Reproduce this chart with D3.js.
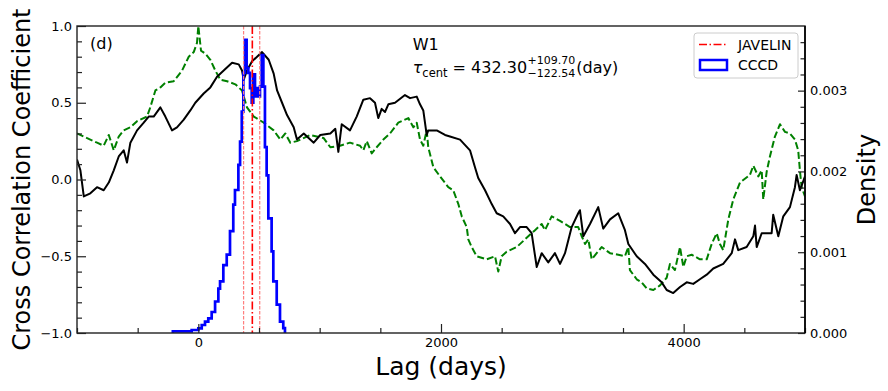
<!DOCTYPE html>
<html><head><meta charset="utf-8">
<script src="https://cdn.jsdelivr.net/npm/d3@7"></script>
<style>body{margin:0;background:#fff} svg{display:block} text{font-family:"DejaVu Sans",sans-serif;fill:#000}</style>
</head><body><svg id="c" width="888" height="391"></svg>
<script>
// ---------- data ----------
const panelLabel = "(d)";
const bandName = "W1";
const tauCent = 432.30, tauErrPlus = 109.70, tauErrMinus = 122.54;
const javelinLow = 373, javelinCentral = 445, javelinHigh = 506;

// black solid CCF
const lagCCF = [-1000,-972,-944,-890,-835,-780,-738,-697,-656,-615,-588,-560,-505,-450,-409,-368,-313,-272,-217,-176,-120,-66,-25,44,99,154,209,278,333,360,374,401,443,484,525,580,621,649,690,731,786,813,869,951,1005,1088,1129,1154,1182,1250,1305,1360,1415,1456,1483,1511,1539,1566,1621,1703,1745,1800,1827,1854,1882,1895,1965,2033,2074,2157,2239,2280,2307,2363,2418,2459,2513,2569,2610,2651,2706,2747,2789,2830,2884,2939,2981,3022,3077,3131,3145,3173,3228,3296,3337,3393,3461,3516,3544,3613,3681,3750,3819,3860,3914,3970,4025,4079,4134,4190,4244,4326,4396,4423,4450,4519,4574,4588,4602,4643,4725,4738,4780,4821,4876,4917,4931,4958,4986,5000];
const ccfValues = [0.13,0.06,-0.11,-0.09,-0.05,-0.07,-0.02,0.06,0.15,0.19,0.11,0.24,0.32,0.37,0.41,0.41,0.47,0.41,0.32,0.34,0.39,0.45,0.50,0.56,0.60,0.67,0.71,0.76,0.75,0.71,0.65,0.71,0.77,0.80,0.83,0.78,0.69,0.58,0.50,0.42,0.34,0.26,0.30,0.24,0.29,0.30,0.33,0.18,0.36,0.32,0.41,0.52,0.53,0.50,0.40,0.46,0.44,0.49,0.50,0.55,0.53,0.54,0.49,0.45,0.29,0.32,0.32,0.29,0.28,0.26,0.19,0.08,0.01,-0.07,-0.16,-0.22,-0.24,-0.29,-0.35,-0.31,-0.31,-0.35,-0.57,-0.48,-0.54,-0.48,-0.55,-0.48,-0.31,-0.22,-0.20,-0.37,-0.29,-0.18,-0.32,-0.26,-0.22,-0.33,-0.42,-0.50,-0.55,-0.62,-0.67,-0.72,-0.74,-0.70,-0.67,-0.68,-0.65,-0.62,-0.58,-0.55,-0.48,-0.39,-0.46,-0.44,-0.37,-0.30,-0.44,-0.35,-0.35,-0.23,-0.37,-0.24,-0.18,-0.05,0.03,-0.07,-0.01,0.02];

// green dashed ACF
const lagACF = [-1000,-917,-835,-780,-738,-697,-656,-615,-560,-505,-423,-396,-354,-313,-272,-203,-134,-79,-38,-11,0,22,58,99,140,181,237,305,360,401,457,539,621,676,717,758,813,923,1033,1088,1168,1250,1333,1360,1388,1429,1470,1525,1580,1648,1731,1772,1800,1827,1854,1882,1895,1937,1992,2060,2101,2143,2171,2212,2225,2253,2294,2377,2445,2472,2500,2541,2624,2706,2775,2830,2857,2912,2981,3063,3131,3160,3187,3214,3242,3283,3324,3393,3461,3516,3544,3557,3613,3654,3695,3750,3805,3860,3887,3928,3970,3997,4025,4066,4134,4190,4231,4272,4299,4326,4368,4409,4464,4546,4574,4615,4643,4656,4684,4711,4752,4794,4835,4876,4917,4944,4958,4972,5000];
const acfValues = [0.30,0.27,0.24,0.22,0.29,0.19,0.28,0.32,0.34,0.38,0.41,0.47,0.58,0.60,0.63,0.64,0.71,0.80,0.83,0.89,1.00,0.84,0.82,0.78,0.71,0.65,0.64,0.62,0.58,0.47,0.41,0.37,0.32,0.26,0.30,0.24,0.25,0.29,0.27,0.21,0.22,0.24,0.22,0.19,0.25,0.17,0.21,0.26,0.30,0.37,0.40,0.34,0.37,0.26,0.22,0.32,0.21,0.08,0.02,-0.05,-0.07,-0.16,-0.24,-0.31,-0.39,-0.44,-0.50,-0.52,-0.50,-0.60,-0.50,-0.47,-0.44,-0.38,-0.33,-0.29,-0.33,-0.24,-0.27,-0.31,-0.31,-0.37,-0.42,-0.39,-0.52,-0.48,-0.44,-0.48,-0.49,-0.50,-0.44,-0.59,-0.65,-0.67,-0.71,-0.72,-0.69,-0.64,-0.55,-0.59,-0.44,-0.57,-0.50,-0.49,-0.52,-0.52,-0.42,-0.35,-0.42,-0.46,-0.26,-0.13,-0.02,0.03,0.09,0.02,0.06,-0.13,0.05,0.15,0.28,0.36,0.31,0.30,0.26,0.19,0.06,-0.05,-0.11];

// CCCD histogram (bin edges in days, density per bin)
const cccdEdges = [-210,-55,0,28,55,82,110,138,165,179,206,234,261,288,302,330,344,358,371,385,398,412,426,440,453,467,481,494,508,522,536,549,563,577,604,618,646,673,700,714];
const cccdDensity = [0.00002,0.000037,0.000058,0.000099,0.00014,0.00018,0.00026,0.00039,0.00055,0.00064,0.00084,0.00097,0.00126,0.00159,0.00177,0.00208,0.00237,0.00274,0.00322,0.00363,0.00328,0.00322,0.00303,0.00285,0.00320,0.00293,0.00303,0.00293,0.00305,0.00344,0.00305,0.00230,0.00195,0.00142,0.00101,0.00064,0.00035,0.00014,0.00006];

const xTicks = [0, 2000, 4000];
const xMinor = [-1000,-500,500,1000,1500,2500,3000,3500,4500,5000];
const yTicks = [-1.0, -0.5, 0.0, 0.5, 1.0];
const yMinor = [-0.9,-0.8,-0.7,-0.6,-0.4,-0.3,-0.2,-0.1,0.1,0.2,0.3,0.4,0.6,0.7,0.8,0.9];
const dTicks = [0, 0.001, 0.002, 0.003];
const dMinor = [0.0002,0.0004,0.0006,0.0008,0.0012,0.0014,0.0016,0.0018,0.0022,0.0024,0.0026,0.0028,0.0032,0.0034,0.0036];

// ---------- layout ----------
const L = 77, R = 805, T = 26, B = 333;
const svg = d3.select("#c");
const x = d3.scaleLinear().domain([-1000, 5000]).range([L, R]);
const y = d3.scaleLinear().domain([-1, 1]).range([B, T]);
const yd = d3.scaleLinear().domain([0, 0.0038]).range([B, T]);

svg.append("defs").append("clipPath").attr("id","clip")
  .append("rect").attr("x",L).attr("y",T).attr("width",R-L).attr("height",B-T);
const plot = svg.append("g").attr("clip-path","url(#clip)");

// green dashed ACF
plot.append("path")
  .datum(lagACF.map((d,i)=>[d, acfValues[i]]))
  .attr("d", d3.line().x(d=>x(d[0])).y(d=>y(d[1])))
  .attr("fill","none").attr("stroke","#008000").attr("stroke-width",2)
  .attr("stroke-dasharray","7,3").attr("stroke-linejoin","round");

// black CCF
plot.append("path")
  .datum(lagCCF.map((d,i)=>[d, ccfValues[i]]))
  .attr("d", d3.line().x(d=>x(d[0])).y(d=>y(d[1])))
  .attr("fill","none").attr("stroke","#000").attr("stroke-width",2)
  .attr("stroke-linejoin","round");

// CCCD step histogram
const histPts = [[cccdEdges[0], 0]];
cccdDensity.forEach((v,i)=>{ histPts.push([cccdEdges[i], v]); histPts.push([cccdEdges[i+1], v]); });
histPts.push([cccdEdges[cccdEdges.length-1], 0]);
plot.append("path")
  .datum(histPts)
  .attr("d", d3.line().x(d=>x(d[0])).y(d=>yd(d[1])))
  .attr("fill","none").attr("stroke","#0000ff").attr("stroke-width",2.7)
  .attr("stroke-linejoin","miter");

// JAVELIN lines
[javelinLow, javelinHigh].forEach(v=>{
  plot.append("line").attr("x1",x(v)).attr("x2",x(v)).attr("y1",T).attr("y2",B)
    .attr("stroke","#ff7f7f").attr("stroke-width",1.2).attr("stroke-dasharray","3.5,1.5");
});
plot.append("line").attr("x1",x(javelinCentral)).attr("x2",x(javelinCentral)).attr("y1",T).attr("y2",B)
  .attr("stroke","#ff0000").attr("stroke-width",1.6).attr("stroke-dasharray","8,2.5,1.5,2.5");

// ---------- axes ----------
const tickCol = "#222";
function styleAxis(g){ g.select(".domain").remove(); g.selectAll("line").attr("stroke",tickCol).attr("stroke-width",1.2); g.selectAll("text").attr("font-family","DejaVu Sans").attr("font-size",13).attr("fill","#000"); }

svg.append("g").attr("transform",`translate(0,${B})`)
  .call(d3.axisBottom(x).tickValues(xTicks).tickSizeInner(-9).tickSizeOuter(0).tickPadding(5).tickFormat(d3.format("d")))
  .call(styleAxis);
svg.append("g").attr("transform",`translate(0,${B})`)
  .call(d3.axisBottom(x).tickValues(xMinor).tickSizeInner(-5).tickSizeOuter(0).tickFormat(""))
  .call(styleAxis);

svg.append("g").attr("transform",`translate(${L},0)`)
  .call(d3.axisLeft(y).tickValues(yTicks).tickSizeInner(-9).tickSizeOuter(0).tickPadding(5).tickFormat(d3.format(".1f")))
  .call(styleAxis);
svg.append("g").attr("transform",`translate(${L},0)`)
  .call(d3.axisLeft(y).tickValues(yMinor).tickSizeInner(-5).tickSizeOuter(0).tickFormat(""))
  .call(styleAxis);

svg.append("g").attr("transform",`translate(${R},0)`)
  .call(d3.axisRight(yd).tickValues(dTicks).tickSizeInner(-7).tickSizeOuter(0).tickPadding(5).tickFormat(d3.format(".3f")))
  .call(styleAxis);
svg.append("g").attr("transform",`translate(${R},0)`)
  .call(d3.axisRight(yd).tickValues(dMinor).tickSizeInner(-4.5).tickSizeOuter(0).tickFormat(""))
  .call(styleAxis);

// spines
svg.append("rect").attr("x",L).attr("y",T).attr("width",R-L).attr("height",B-T)
  .attr("fill","none").attr("stroke","#222").attr("stroke-width",1.4);
svg.append("line").attr("x1",R).attr("x2",R).attr("y1",T).attr("y2",B).attr("stroke","#000").attr("stroke-width",1.6);

// axis labels
svg.append("text").attr("x",(L+R)/2).attr("y",375).attr("text-anchor","middle").attr("font-size",25).text("Lag (days)");
svg.append("text").attr("transform",`translate(29.5,${(T+B)/2}) rotate(-90)`).attr("text-anchor","middle").attr("font-size",24).text("Cross Correlation Coefficient");
svg.append("text").attr("transform",`translate(875,${(T+B)/2}) rotate(-90)`).attr("text-anchor","middle").attr("font-size",24).text("Density");

// annotations
svg.append("text").attr("x",90).attr("y",49).attr("font-size",16).text(panelLabel);
svg.append("text").attr("x",412.7).attr("y",50).attr("font-size",16).text(bandName);
const tx = 412.7, ty = 73.3;
const t = svg.append("text").attr("x",tx).attr("y",ty).attr("font-size",16);
t.append("tspan").attr("font-style","italic").text("τ");
t.append("tspan").attr("font-size",11.5).attr("dy",3.5).text("cent");
t.append("tspan").attr("dy",-3.5).text(" = " + tauCent.toFixed(2));
const bb = t.node().getBBox();
const sx = bb.x + bb.width + 0.5;
const sup = svg.append("text").attr("x",sx).attr("y",ty-9.5).attr("font-size",11).text("+" + tauErrPlus.toFixed(2));
const sub = svg.append("text").attr("x",sx).attr("y",ty+3.8).attr("font-size",11).text("\u2212" + tauErrMinus.toFixed(2));
const ex = Math.max(sup.node().getBBox().x + sup.node().getBBox().width, sub.node().getBBox().x + sub.node().getBBox().width);
svg.append("text").attr("x",ex+1).attr("y",ty).attr("font-size",16).text("(day)");

// legend
const lg = svg.append("g");
lg.append("rect").attr("x",694).attr("y",33).attr("width",104).attr("height",45).attr("rx",3)
  .attr("fill","#fff").attr("fill-opacity",0.85).attr("stroke","#ccc").attr("stroke-width",1);
lg.append("line").attr("x1",699).attr("x2",727).attr("y1",44.5).attr("y2",44.5)
  .attr("stroke","#ff0000").attr("stroke-width",1.5).attr("stroke-dasharray","8,2.5,1.5,2.5");
lg.append("text").attr("x",738).attr("y",50).attr("font-size",14).text("JAVELIN");
lg.append("rect").attr("x",700).attr("y",60).attr("width",27).attr("height",10)
  .attr("fill","none").attr("stroke","#0000ff").attr("stroke-width",2.5);
lg.append("text").attr("x",738).attr("y",70).attr("font-size",14).text("CCCD");
</script></body></html>
